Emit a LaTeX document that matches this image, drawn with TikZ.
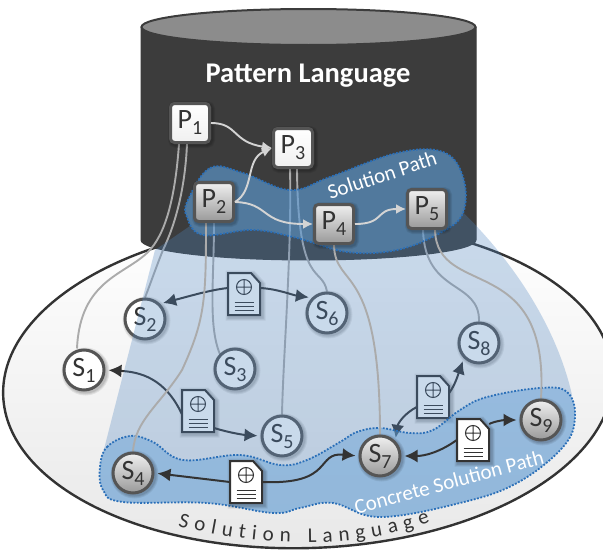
\documentclass[tikz,border=0pt]{standalone}
\usepackage{fontspec}
\setmainfont{Carlito}
\usetikzlibrary{arrows.meta,decorations.text}
\definecolor{cyldark}{HTML}{3C3C3C}
\definecolor{cyltop}{HTML}{8C8C8C}
\definecolor{edgegray}{HTML}{555555}
\definecolor{tracegray}{HTML}{ABABAB}
\definecolor{inkdark}{HTML}{333333}
\definecolor{veilblue}{HTML}{4F85C0}
\definecolor{pathblue}{HTML}{62A0D8}
\definecolor{dotblue}{HTML}{2A6FB8}
\newcommand{\lowidx}[2]{#1\raisebox{-6pt}{\fontsize{20}{20}\selectfont #2}}
\newcommand{\solblob}{(188,200) (210,168) (243,173) (290,190) (330,177)
  (397,153) (443,152) (463,177) (463,213) (440,233) (397,250) (347,252) (297,238) (253,230) (203,235) (187,217)}
\newcommand{\concblob}{(100,467) (107,447) (130,436) (153,442) (183,460) (240,455)
  (280,465) (307,460) (340,442) (357,432) (380,428) (410,433) (433,430) (460,410) (487,397) (540,388)
  (567,392) (575,417) (563,447) (517,483) (460,503) (380,517) (333,503) (300,508) (273,513) (207,503)
  (123,502) (103,490)}
\tikzset{
  softshadow/.style={
    preaction={draw=black,draw opacity=.07,line width=8pt,transform canvas={shift={(1.5pt,-1.5pt)}}},
    preaction={draw=black,draw opacity=.08,line width=6pt,transform canvas={shift={(1.5pt,-1.5pt)}}},
    preaction={draw=black,draw opacity=.09,line width=4pt,transform canvas={shift={(1.5pt,-1.5pt)}}}
  },
  pattern state/.style={
    draw=edgegray,
    line width=3pt,
    rounded corners=4pt,
    minimum size=39pt,
    inner sep=0pt,
    text=inkdark,
    font=\fontsize{28}{28}\selectfont,
    softshadow
  },
  light pattern/.style={pattern state,top color=white,bottom color=black!6},
  dark pattern/.style={pattern state,top color=black!6,bottom color=black!40},
  solution state/.style={
    draw=edgegray,
    circle,
    line width=3pt,
    minimum size=40pt,
    inner sep=0pt,
    text=inkdark,
    font=\fontsize{28}{28}\selectfont,
    softshadow
  },
  light solution/.style={solution state,fill=white},
  dark solution/.style={solution state,top color=black!6,bottom color=black!40},
  trace/.style={draw=tracegray,line width=1.9pt},
  pattern arrow/.style={draw=black!17,line width=1.9pt,-{Latex[length=10pt,width=10pt]}},
  doc arrow/.style={draw=inkdark,line width=2pt,-{Latex[length=13pt,width=13pt]},shorten >=3pt},
  blob/.style={fill=pathblue,fill opacity=.6,draw=dotblue,draw opacity=1,line width=1.8pt,dash pattern=on 1.8pt off 1.6pt},
  blob label/.style={text=white,font=\fontsize{21}{21}\selectfont},
  docicon/.pic={
    \node[minimum width=32pt,minimum height=42pt,inner sep=0pt] (-box) {};
    \draw[draw=inkdark,fill=white,line width=2pt,line join=miter,softshadow]
      (-16,-21) -- (7,-21) -- (16,-11) -- (16,21) -- (-16,21) -- cycle;
    \draw[inkdark,line width=1pt] (0,-7) circle [radius=7.5] (-7.5,-7) -- (7.5,-7) (0,-14.5) -- (0,.5);
    \draw[inkdark,line width=1pt] (-9.5,8) -- (9.5,8) (-9.5,12) -- (9.5,12) (-9.5,16) -- (9.5,16);
  }
}
\pgfdeclarelayer{base}
\pgfdeclarelayer{lines}
\pgfdeclarelayer{low}
\pgfdeclarelayer{veil}
\pgfdeclarelayer{blobs}
\pgfdeclarelayer{upper}
\pgfsetlayers{base,lines,low,veil,blobs,upper,main}
\begin{document}
\begin{tikzpicture}[x=1pt,y=-1pt]
  \useasboundingbox (0,0) rectangle (603,554);
  % nodes on top
  \node[light pattern] (P1) at (190,123) {\lowidx{P}{1}};
  \node[light pattern] (P3) at (293,148) {\lowidx{P}{3}};
  \node[dark pattern]  (P2) at (214,202) {\lowidx{P}{2}};
  \node[dark pattern]  (P4) at (334,224) {\lowidx{P}{4}};
  \node[dark pattern]  (P5) at (427,209) {\lowidx{P}{5}};
  \node[dark solution] (S4) at (133,473) {\lowidx{S}{4}};
  \node[dark solution] (S7) at (380,456) {\lowidx{S}{7}};
  \node[dark solution] (S9) at (541,420) {\lowidx{S}{9}};
  \pic (d3) at (246,482) {docicon};
  \pic (d5) at (473,440) {docicon};
  \path[pattern arrow] (P1.east) .. controls (238,123) and (232,142) .. (P3.west);
  \path[pattern arrow] (P2.east) .. controls (255,190) and (245,160) .. (P3.west);
  \path[pattern arrow] (P2.east) .. controls (270,203) and (260,224) .. (P4.west);
  \path[pattern arrow] (P4.east) .. controls (385,224) and (375,209) .. (P5.west);
  \path[doc arrow] (d3-box.west) -- (S4.east);
  \path[doc arrow] (d3-box.east) .. controls (335,485) and (315,452) .. (S7.west);
  \path[doc arrow] (d5-box.west) .. controls (440,452) and (425,456) .. (S7.east);
  \path[doc arrow] ([yshift=16pt]d5-box.east) .. controls (495,421) and (505,420) .. (S9.west);
  \begin{pgfonlayer}{base}
    \draw[draw=inkdark,line width=2.4pt,top color=white,bottom color=black!9,rotate around={2:(308,385)}]
      (308,385) ellipse [x radius=305,y radius=163];
    \draw[fill=cyldark,draw=cyldark,line width=1pt] (141,27) -- (141,240)
      .. controls (141,251) and (216,260) .. (308.5,260)
      .. controls (401,260) and (476,251) .. (476,240) -- (476,27) -- cycle;
    \draw[fill=cyltop,draw=cyldark,line width=2pt] (308.5,27) ellipse [x radius=167,y radius=18];
    \node[text=white,font=\bfseries\fontsize{28.5}{28.5}\selectfont] (title) at (308,76) {Pattern Language};
    \path[decorate,decoration={text along path,text align=fit to path,
        text={|\fontsize{21}{21}\selectfont\color{inkdark}|Solution Language}}]
      (178,526) .. controls (250,545) and (350,552) .. (430,522);
  \end{pgfonlayer}
  \begin{pgfonlayer}{low}
    \node[light solution] (S1) at (84,370)  {\lowidx{S}{1}};
    \node[light solution] (S2) at (145,319) {\lowidx{S}{2}};
    \node[light solution] (S3) at (235,369) {\lowidx{S}{3}};
    \node[light solution] (S5) at (282,436) {\lowidx{S}{5}};
    \node[light solution] (S6) at (327,313) {\lowidx{S}{6}};
    \node[light solution] (S8) at (479,343) {\lowidx{S}{8}};
    \pic (d1) at (244,294) {docicon};
    \pic (d2) at (198,411) {docicon};
    \pic (d4) at (433,397) {docicon};
    \path[doc arrow] ([yshift=6pt]d1-box.west) .. controls (210,290) and (190,296) .. (S2.north east);
    \path[doc arrow] ([yshift=6pt]d1-box.east) .. controls (278,289) and (292,295) .. (S6.north west);
    \path[doc arrow] ([yshift=-3pt]d2-box.west) .. controls (165,378) and (140,372) .. (S1.east);
    \path[doc arrow] ([yshift=-17pt]d2-box.east) .. controls (230,433) and (245,435) .. (S5.west);
    \path[doc arrow] ([yshift=-10pt]d4-box.west) .. controls (405,413) and (398,423) .. (S7.north east);
    \path[doc arrow] ([yshift=4pt]d4-box.east) .. controls (455,385) and (458,375) .. (S8.south west);
  \end{pgfonlayer}
  \begin{pgfonlayer}{lines}
    \path[trace] ([xshift=-11pt]P1.south) .. controls (175,200) and (165,235) .. (148,252)
      .. controls (125,275) and (80,280) .. ([xshift=-7pt]S1.north);
    \path[trace] ([xshift=-3pt]P1.south) .. controls (185,190) and (175,225) .. (163,250)
      .. controls (155,270) and (150,285) .. (S2.north);
    \path[trace] (P2.south) .. controls (214,280) and (208,325) .. (S3.north west);
    \path[trace] ([xshift=-3pt]P3.south) .. controls (292,250) and (283,360) .. (S5.north);
    \path[trace] ([xshift=4pt]P3.south) .. controls (298,290) and (322,265) .. (S6.north);
    \path[trace] ([xshift=-4pt]P5.south) .. controls (425,295) and (480,280) .. (S8.north);
  \end{pgfonlayer}
  \begin{pgfonlayer}{veil}
    \fill[veilblue,opacity=.3] (200,215) -- (450,200)
      .. controls (505,250) and (555,320) .. (572,395) -- (560,450) -- (120,480) -- (102,457) -- (155,250) -- (190,226) -- cycle
      plot [smooth cycle,tension=.65] coordinates {\solblob}
      plot [smooth cycle,tension=.65] coordinates {\concblob};
  \end{pgfonlayer}
  \begin{pgfonlayer}{blobs}
    \path[blob,fill opacity=.5] plot [smooth cycle,tension=.65] coordinates {\solblob};
    \path[blob,fill opacity=.45] plot [smooth cycle,tension=.65] coordinates {\concblob};
    \node[blob label,rotate=18] (solpath) at (382,175) {Solution Path};
    \node[blob label,rotate=15] (concpath) at (449,482) {Concrete Solution Path};
  \end{pgfonlayer}
  \begin{pgfonlayer}{upper}
    \path[trace] ([xshift=-8pt]P2.south) .. controls (206,300) and (205,320) .. (182,370)
      .. controls (160,405) and (135,420) .. (S4.north);
    \path[trace] (P4.south) .. controls (335,290) and (380,260) .. (S7.north);
    \path[trace] ([xshift=8pt]P5.south) .. controls (437,300) and (550,250) .. (S9.north);
  \end{pgfonlayer}
\end{tikzpicture}
\end{document}
